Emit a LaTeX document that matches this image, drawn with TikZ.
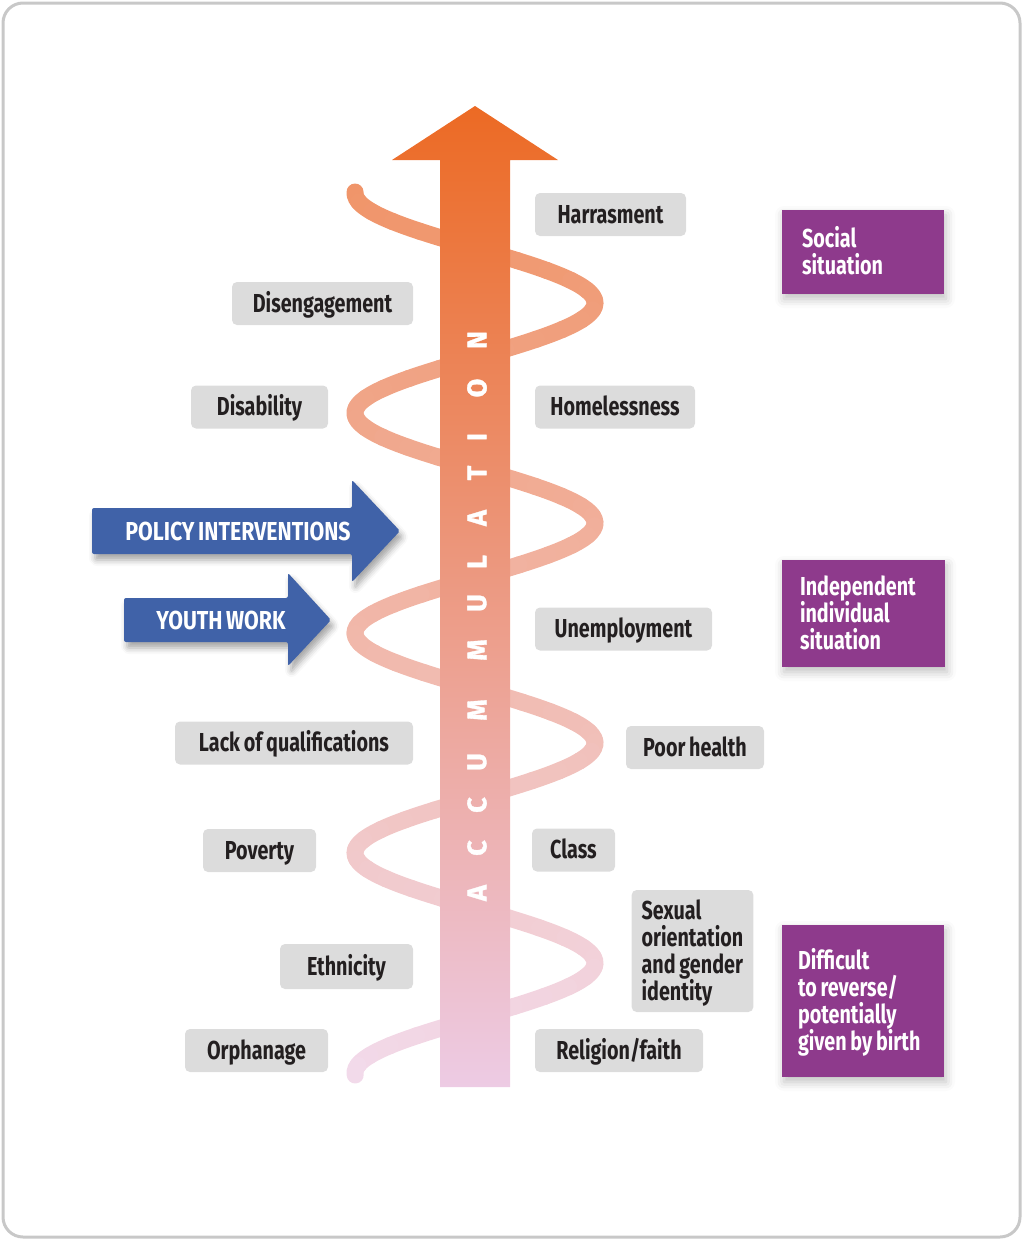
\documentclass[tikz,border=0pt]{standalone}
\usepackage{fontspec}
\setmainfont{Fira Sans}[FakeStretch=0.76,WordSpace=0.8]
\newfontfamily\policyfont{Fira Sans}[FakeStretch=0.82,WordSpace=0.7]
\newfontfamily\accfont{Fira Sans}[FakeBold=1.2]
\usetikzlibrary{shadows.blur}

\definecolor{boxgrey}{HTML}{DCDCDC}
\definecolor{labeltext}{HTML}{231F20}
\definecolor{policyblue}{HTML}{4062A8}
\definecolor{situpurple}{HTML}{8E3A8C}
\definecolor{arrowtop}{HTML}{EC6A24}
\definecolor{arrowbot}{HTML}{EDCBE4}
\definecolor{spiraltop}{HTML}{F0956A}
\definecolor{spiralbot}{HTML}{F2DAEA}
\definecolor{framegrey}{HTML}{C8C8C8}

\tikzset{
  factor/.style={fill=boxgrey,rounded corners=5pt,text=labeltext,
    font=\bfseries\fontsize{26}{27}\selectfont,align=left,
    minimum height=43pt,inner xsep=10pt,inner ysep=2pt,
    text height=17pt,text depth=0pt},
  situation/.style={fill=situpurple,text=white,
    font=\bfseries\fontsize{26}{27}\selectfont,align=flush left,
    inner ysep=0pt,text height=17pt,
    blur shadow={shadow xshift=2pt,shadow yshift=-5pt,shadow blur radius=9pt,shadow opacity=25}},
  policy/.style={fill=policyblue,rounded corners=2pt,
    blur shadow={shadow xshift=3pt,shadow yshift=-6pt,shadow blur radius=6pt,shadow opacity=35}},
  policytext/.style={text=white,font=\policyfont\bfseries\fontsize{26}{27}\selectfont},
  accletter/.style={text=white,rotate=90,font=\accfont\bfseries\fontsize{27}{27}\selectfont},
  spiral/.style={line width=17pt,line cap=round}
}

\begin{document}
\begin{tikzpicture}[x=1pt,y=-1pt]
\useasboundingbox (0,0) rectangle (1023,1240);
% Frame
\draw[framegrey,line width=3pt,rounded corners=20pt] (3,3) rectangle (1020,1237);

% Spiral band (behind the arrow)
\foreach \i in {0,...,89} {
  \pgfmathsetmacro\ya{192+\i*9.8111}
  \pgfmathsetmacro\yb{192+(\i+1)*9.8111}
  \pgfmathtruncatemacro\mix{\i*1.1236}
  \draw[spiral,spiralbot!\mix!spiraltop]
    plot[domain=\ya:\yb,samples=4,smooth] ({475+120*cos(1.63636*(\x-303))},\x);
}

% Accumulation arrow
\shade[top color=arrowtop,bottom color=arrowbot]
  (440,1087) -- (440,160) -- (392,160) -- (475,106) -- (558,160) -- (510,160) -- (510,1087) -- cycle;
\foreach \l/\y [count=\k] in {A/893,C/848,C/805,U/762,M/710,M/650,U/603,L/562,A/518,T/473,I/437,O/388,N/340}
  \node[accletter] (acc\k) at (477,\y) {\l};

% Factors, left side
\node[factor,minimum width=181pt] (disengagement) at (322.5,303.5) {Disengagement};
\node[factor,minimum width=137pt] (disability) at (259.5,407) {Disability};
\node[factor,minimum width=238pt] (lackqual) at (294,743) {Lack of qualifications};
\node[factor,minimum width=113pt] (poverty) at (259.5,850.5) {Poverty};
\node[factor,minimum width=133pt,minimum height=45pt] (ethnicity) at (346.5,966.5) {Ethnicity};
\node[factor,minimum width=143pt] (orphanage) at (256.5,1050.5) {Orphanage};

% Factors, right side
\node[factor,minimum width=151pt] (harrasment) at (610.5,214.5) {Harrasment};
\node[factor,minimum width=160pt] (homelessness) at (615,407) {Homelessness};
\node[factor,minimum width=177pt] (unemployment) at (623.5,629) {Unemployment};
\node[factor,minimum width=138pt] (poorhealth) at (695,747.5) {Poor health};
\node[factor,minimum width=83pt] (class) at (573.5,850) {Class};
\node[factor,minimum width=121pt,minimum height=122pt,text height=98pt] (sexual) at (692.5,951)
  {Sexual\\orientation\\and gender\\identity};
\node[factor,minimum width=168pt] (religion) at (619,1050.5) {Religion/faith};

% Situations
\node[situation,minimum width=162pt,minimum height=84pt,inner xsep=20pt,text width=122pt,text depth=27pt] (social) at (863,252)
  {Social\\situation};
\node[situation,minimum width=163pt,minimum height=107pt,inner xsep=18pt,text width=127pt,text depth=54pt] (independent) at (863.5,613.5)
  {Independent\\individual\\situation};
\node[situation,minimum width=162pt,minimum height=152pt,inner xsep=16pt,text width=130pt,text depth=81pt] (difficult) at (863,1001)
  {Difficult\\to reverse/\\potentially\\given by birth};

% Interventions
\fill[policy] (92,508) -- (352,508) -- (352,480) -- (400,531) -- (352,582) -- (352,554) -- (92,554) -- cycle;
\node[policytext] (policy) at (238,531) {POLICY INTERVENTIONS};
\fill[policy] (124,598) -- (288,598) -- (288,573) -- (331,620) -- (288,666) -- (288,642) -- (124,642) -- cycle;
\node[policytext] (youth) at (221,620) {YOUTH WORK};
\end{tikzpicture}
\end{document}
